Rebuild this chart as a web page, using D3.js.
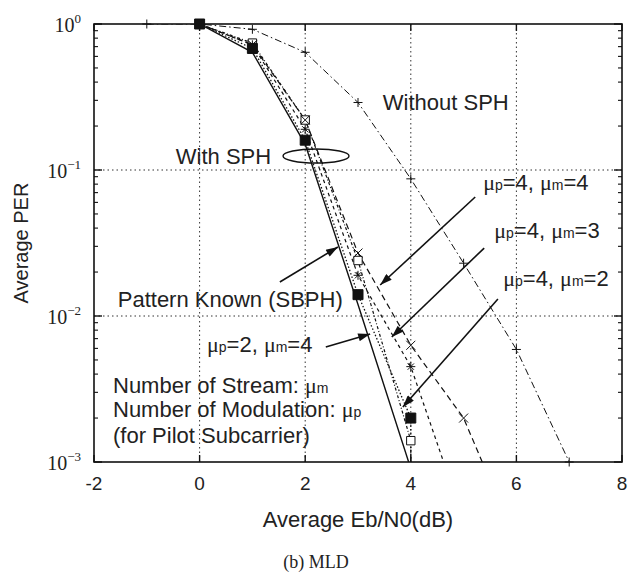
<!DOCTYPE html>
<html>
<head>
<meta charset="utf-8">
<script src="https://cdn.jsdelivr.net/npm/d3@7"></script>
<style>
  body { margin: 0; background: #fff; }
  text { fill: #222; }
</style>
</head>
<body>
<div id="chart"></div>
<script>
// ---- data ----
const xTicks = [-2, 0, 2, 4, 6, 8];
const yDecades = [1e0, 1e-1, 1e-2, 1e-3];
const yExponents = ["0", "\u22121", "\u22122", "\u22123"];

const ebn0Without = [-1, 0, 1, 2, 3, 4, 5, 6, 7];
const perWithout = [1, 1, 0.92, 0.64, 0.29, 0.087, 0.023, 0.0059, 0.001];

const ebn0Known = [0, 1, 2, 3, 4];
const perKnown = [1, 0.64, 0.15, 0.012, 0.0009];

const ebn0P2M4 = [0, 1, 2, 3, 4, 4];
const perP2M4 = [1, 0.68, 0.16, 0.014, 0.002, 0.0001];

const ebn0P4M2 = [0, 1, 2, 3, 4, 4];
const perP4M2 = [1, 0.74, 0.22, 0.024, 0.0014, 0.0001];

const ebn0P4M3 = [0, 1, 2, 3, 4, 5];
const perP4M3 = [1, 0.72, 0.19, 0.019, 0.0045, 0.0004];

const ebn0P4M4 = [0, 1, 2, 3, 4, 5, 6];
const perP4M4 = [1, 0.72, 0.22, 0.027, 0.0063, 0.002, 0.00028];

const width = 630, height = 576;
const margin = {top: 24, right: 8, bottom: 114, left: 94};
const plotW = width - margin.left - margin.right;
const plotH = height - margin.top - margin.bottom;

const x = d3.scaleLinear().domain([-2, 8]).range([margin.left, margin.left + plotW]);
const y = d3.scaleLog().domain([1e-3, 1]).range([margin.top + plotH, margin.top]);

const sans = "'Liberation Sans', Arial, Helvetica, sans-serif";
const serif = "'Liberation Serif', 'Times New Roman', serif";
const annoSize = 22;

const svg = d3.select("#chart").append("svg")
    .attr("width", width)
    .attr("height", height)
    .style("background", "#fff");

svg.append("defs").append("clipPath").attr("id", "plot")
    .append("rect")
    .attr("x", margin.left).attr("y", margin.top)
    .attr("width", plotW).attr("height", plotH);

const arrow = svg.select("defs").append("marker")
    .attr("id", "head")
    .attr("markerUnits", "userSpaceOnUse")
    .attr("viewBox", "0 0 12 8")
    .attr("refX", 12).attr("refY", 4)
    .attr("markerWidth", 13).attr("markerHeight", 8)
    .attr("orient", "auto");
arrow.append("path").attr("d", "M0,0L12,4L0,8Z").attr("fill", "#111");

// grid
const grid = svg.append("g")
    .attr("stroke", "#333")
    .attr("stroke-width", 1)
    .attr("stroke-dasharray", "1.5,3");
grid.selectAll("line.gx")
    .data(xTicks.filter(d => d > -2 && d < 8))
    .join("line")
    .attr("x1", d => x(d)).attr("x2", d => x(d))
    .attr("y1", margin.top).attr("y2", margin.top + plotH);
grid.selectAll("line.gy")
    .data(yDecades.filter(d => d < 1 && d > 1e-3))
    .join("line")
    .attr("class", "gy")
    .attr("x1", margin.left).attr("x2", margin.left + plotW)
    .attr("y1", d => y(d)).attr("y2", d => y(d));

// curves
const series = [
    {xs: ebn0Without, ys: perWithout, dash: "7,3,1.5,3", w: 1, marker: "plus"},
    {xs: ebn0Known, ys: perKnown, dash: null, w: 1.4, marker: null},
    {xs: ebn0P4M2, ys: perP4M2, dash: "3,2,1,2", w: 1.2, marker: "opensq"},
    {xs: ebn0P4M3, ys: perP4M3, dash: "3.5,3.5", w: 1.2, marker: "star"},
    {xs: ebn0P4M4, ys: perP4M4, dash: "6,4", w: 1.2, marker: "cross"},
    {xs: ebn0P2M4, ys: perP2M4, dash: "1.5,2", w: 1.3, marker: "fillsq"}
];

const line = d3.line().x(d => x(d[0])).y(d => y(d[1]));
const curves = svg.append("g").attr("clip-path", "url(#plot)");

curves.selectAll("path")
    .data(series)
    .join("path")
    .attr("d", s => line(s.xs.map((v, i) => [v, s.ys[i]])))
    .attr("fill", "none")
    .attr("stroke", "#111")
    .attr("stroke-width", s => s.w)
    .attr("stroke-dasharray", s => s.dash);

const markerPath = {
    plus: r => `M${-r},0H${r}M0,${-r}V${r}`,
    cross: r => `M${-r},${-r}L${r},${r}M${-r},${r}L${r},${-r}`,
    star: r => `M${-r},0H${r}M0,${-r}V${r}M${-r * 0.7},${-r * 0.7}L${r * 0.7},${r * 0.7}M${-r * 0.7},${r * 0.7}L${r * 0.7},${-r * 0.7}`,
    opensq: r => `M${-r},${-r}H${r}V${r}H${-r}Z`,
    fillsq: r => `M${-r},${-r}H${r}V${r}H${-r}Z`
};
const markerSize = {plus: 4.5, cross: 4.5, star: 4.5, opensq: 4.2, fillsq: 5};

series.filter(s => s.marker).forEach(s => {
    const pts = s.xs.map((v, i) => [v, s.ys[i]]).filter(p => p[1] >= 1e-3);
    svg.append("g").selectAll("path")
        .data(pts)
        .join("path")
        .attr("transform", p => `translate(${x(p[0])},${y(p[1])})`)
        .attr("d", markerPath[s.marker](markerSize[s.marker]))
        .attr("fill", s.marker === "fillsq" ? "#111" : (s.marker === "opensq" ? "#fff" : "none"))
        .attr("stroke", "#111")
        .attr("stroke-width", 1);
});

// frame
svg.append("rect")
    .attr("x", margin.left).attr("y", margin.top)
    .attr("width", plotW).attr("height", plotH)
    .attr("fill", "none")
    .attr("stroke", "#111")
    .attr("stroke-width", 1.6);

// ticks
const ticks = svg.append("g").attr("stroke", "#111").attr("stroke-width", 1.4);
xTicks.forEach(d => {
    ticks.append("line").attr("x1", x(d)).attr("x2", x(d))
        .attr("y1", margin.top + plotH).attr("y2", margin.top + plotH - 7);
    ticks.append("line").attr("x1", x(d)).attr("x2", x(d))
        .attr("y1", margin.top).attr("y2", margin.top + 7);
});
const minor = [];
yDecades.slice(1).forEach(dec => {
    for (let k = 2; k <= 9; k++) minor.push(dec * k);
});
yDecades.forEach(d => {
    ticks.append("line").attr("x1", margin.left).attr("x2", margin.left + 8)
        .attr("y1", y(d)).attr("y2", y(d));
    ticks.append("line").attr("x1", margin.left + plotW).attr("x2", margin.left + plotW - 8)
        .attr("y1", y(d)).attr("y2", y(d));
});
minor.forEach(d => {
    ticks.append("line").attr("x1", margin.left).attr("x2", margin.left + 4)
        .attr("y1", y(d)).attr("y2", y(d)).attr("stroke-width", 1.1);
    ticks.append("line").attr("x1", margin.left + plotW).attr("x2", margin.left + plotW - 4)
        .attr("y1", y(d)).attr("y2", y(d)).attr("stroke-width", 1.1);
});

// tick labels
svg.append("g").selectAll("text")
    .data(xTicks)
    .join("text")
    .attr("x", d => x(d))
    .attr("y", margin.top + plotH + 28)
    .attr("text-anchor", "middle")
    .attr("font-family", sans)
    .attr("font-size", 19)
    .text(d => d < 0 ? "-" + Math.abs(d) : d);

const yl = svg.append("g").selectAll("text")
    .data(yDecades)
    .join("text")
    .attr("x", margin.left - 13)
    .attr("y", d => y(d) + 8)
    .attr("text-anchor", "end")
    .attr("font-family", serif)
    .attr("font-size", 20);
yl.append("tspan").text("10");
yl.append("tspan")
    .attr("dy", -9)
    .attr("font-size", 13)
    .text((d, i) => yExponents[i]);

// axis titles
svg.append("text")
    .attr("x", margin.left + plotW / 2)
    .attr("y", 527)
    .attr("text-anchor", "middle")
    .attr("font-family", sans)
    .attr("font-size", annoSize)
    .text("Average Eb/N0(dB)");

svg.append("text")
    .attr("transform", `translate(28,${margin.top + plotH / 2}) rotate(-90)`)
    .attr("text-anchor", "middle")
    .attr("font-family", sans)
    .attr("font-size", 20)
    .text("Average PER");

svg.append("text")
    .attr("x", 316)
    .attr("y", 568)
    .attr("text-anchor", "middle")
    .attr("font-family", serif)
    .attr("font-size", 18)
    .text("(b) MLD");

// annotations (data coordinates)
const plainLabels = [
    {t: "Without SPH", ex: 3.47, per: 0.2576},
    {t: "With SPH", ex: -0.45, per: 0.11},
    {t: "Pattern Known (SBPH)", ex: -1.55, per: 0.01153},
    {t: "(for Pilot Subcarrier)", ex: -1.64, per: 0.00135}
];
svg.append("g").selectAll("text")
    .data(plainLabels)
    .join("text")
    .attr("x", d => x(d.ex))
    .attr("y", d => y(d.per))
    .attr("font-family", sans)
    .attr("font-size", annoSize)
    .text(d => d.t);

// labels with mu symbols: [prefix, sub1, middle, sub2, suffix]
const muLabels = [
    {parts: ["", "p", "=4, ", "m", "=4"], ex: 5.37, per: 0.073},
    {parts: ["", "p", "=4, ", "m", "=3"], ex: 5.58, per: 0.0342},
    {parts: ["", "p", "=4, ", "m", "=2"], ex: 5.75, per: 0.01604},
    {parts: ["", "p", "=2, ", "m", "=4"], ex: 0.14, per: 0.00567},
    {parts: ["Number of Stream: ", "m", null, null, null], ex: -1.64, per: 0.00297},
    {parts: ["Number of Modulation: ", "p", null, null, null], ex: -1.64, per: 0.00203}
];
muLabels.forEach(d => {
    const t = svg.append("text")
        .attr("x", x(d.ex))
        .attr("y", y(d.per))
        .attr("font-family", sans)
        .attr("font-size", annoSize);
    const [pre, s1, mid, s2, suf] = d.parts;
    if (pre) t.append("tspan").text(pre);
    t.append("tspan").attr("font-family", serif).text("\u03bc");
    t.append("tspan").attr("font-size", 14).text(s1);
    if (mid) {
        t.append("tspan").text(mid);
        t.append("tspan").attr("font-family", serif).text("\u03bc");
        t.append("tspan").attr("font-size", 14).text(s2);
        t.append("tspan").text(suf);
    }
});

// ellipse around the SPH curves
svg.append("ellipse")
    .attr("cx", x(2.205))
    .attr("cy", y(0.1247))
    .attr("rx", 33)
    .attr("ry", 7)
    .attr("fill", "none")
    .attr("stroke", "#111")
    .attr("stroke-width", 1.4);

// arrows: from label to curve
const arrows = [
    {x1: 1.52, p1: 0.0171, x2: 2.62, p2: 0.0297},
    {x1: 2.39, p1: 0.00614, x2: 3.23, p2: 0.00753},
    {x1: 5.22, p1: 0.0653, x2: 3.42, p2: 0.0163},
    {x1: 5.39, p1: 0.0292, x2: 3.64, p2: 0.00718},
    {x1: 5.65, p1: 0.01306, x2: 3.85, p2: 0.00238}
];
svg.append("g").selectAll("line")
    .data(arrows)
    .join("line")
    .attr("x1", d => x(d.x1)).attr("y1", d => y(d.p1))
    .attr("x2", d => x(d.x2)).attr("y2", d => y(d.p2))
    .attr("stroke", "#111")
    .attr("stroke-width", 1.6)
    .attr("marker-end", "url(#head)");
</script>
</body>
</html>
